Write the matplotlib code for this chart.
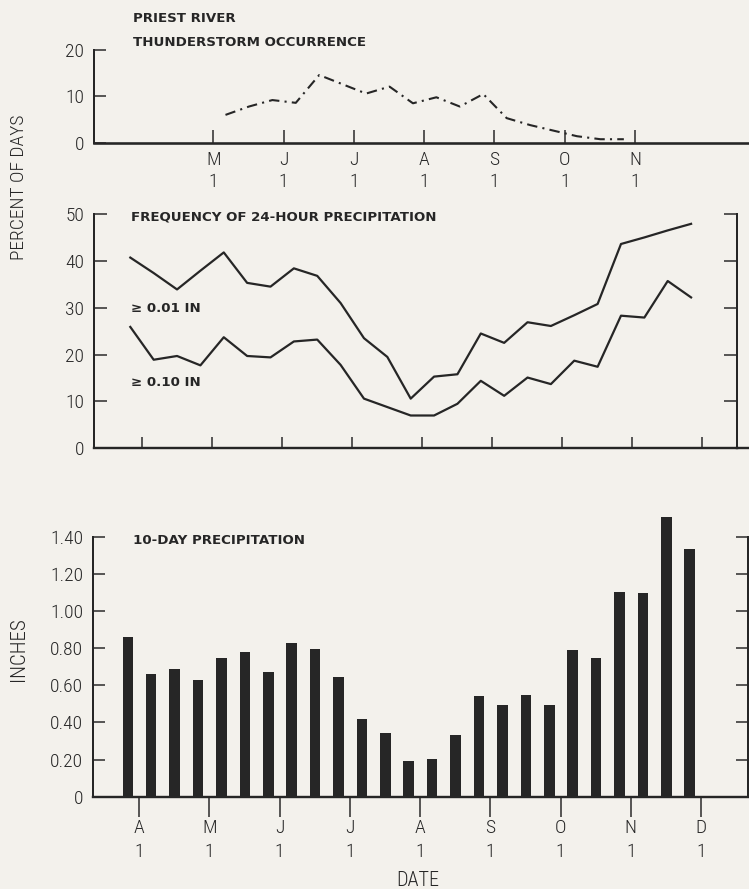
import matplotlib
matplotlib.use("Agg")
import matplotlib.pyplot as plt
import matplotlib.font_manager as fm
from matplotlib.lines import Line2D
import numpy as np

# ---- data ----
# 25 ten-day periods, positioned in months after April 1
n_periods = 25
period_x = np.arange(n_periods) / 3 - 0.16

months_top = ["M", "J", "J", "A", "S", "O", "N"]
months_bottom = ["A", "M", "J", "J", "A", "S", "O", "N", "D"]

# thunderstorm occurrence, percent of days (periods 4..21)
thunder_first = 4
thunder_pct = [6.0, 7.8, 9.2, 8.6, 14.6, 12.6, 10.6, 12.1, 8.5,
               9.8, 7.8, 10.5, 5.3, 3.8, 2.6, 1.4, 0.75, 0.75]

# frequency of 24-hour precipitation, percent of days
freq_001 = [40.7, 37.4, 33.9, 37.9, 41.8, 35.3, 34.5, 38.4, 36.8, 31.0,
            23.5, 19.5, 10.6, 15.3, 15.8, 24.5, 22.5, 26.9, 26.1, 28.4,
            30.8, 43.6, 45.0, 46.5, 47.9]
freq_010 = [25.9, 18.9, 19.7, 17.7, 23.7, 19.7, 19.4, 22.8, 23.2, 17.8,
            10.6, 8.8, 7.0, 7.0, 9.5, 14.4, 11.2, 15.1, 13.7, 18.7,
            17.4, 28.3, 27.9, 35.7, 32.2]

# 10-day precipitation, inches
precip_in = [0.86, 0.66, 0.69, 0.63, 0.745, 0.78, 0.67, 0.83, 0.795, 0.645,
             0.42, 0.345, 0.19, 0.205, 0.33, 0.54, 0.495, 0.55, 0.495, 0.79,
             0.745, 1.10, 1.095, 1.505, 1.335]

# ---- style ----
BG = "#f3f1ec"
INK = "#262626"
TITLE_FONT = "DejaVu Sans"
W, H = 749, 889
PT = 0.72  # points per pixel at dpi 100
TICK_SIZE = 14


def pick_narrow_font():
    """Find a condensed sans for the tick labels, else fall back."""
    entries = fm.fontManager.ttflist
    names = {f.name for f in entries}
    for name in ["Liberation Sans Narrow", "Roboto Condensed",
                 "Open Sans Condensed", "Noto Sans Condensed",
                 "DejaVu Sans Condensed"]:
        if name in names:
            return name, "normal"
    for fam in ["Noto Sans", "DejaVu Sans", "Open Sans", "Roboto"]:
        for f in entries:
            if f.name == fam and "condensed" in str(f.stretch):
                return fam, "condensed"
    return "Roboto", "normal"


NARROW, STRETCH = pick_narrow_font()
plt.rcParams["font.family"] = [NARROW, "DejaVu Sans"]
plt.rcParams["font.stretch"] = STRETCH
plt.rcParams["font.weight"] = "light"
plt.rcParams["axes.linewidth"] = 2 * PT

fig = plt.figure(figsize=(W / 100, H / 100), dpi=100, facecolor=BG)


def px_axes(left, right, y_zero, y_top):
    ax = fig.add_axes([left / W, 1 - y_zero / H, (right - left) / W,
                       (y_zero - y_top) / H])
    ax.set_facecolor("none")
    for s in ax.spines.values():
        s.set_color(INK)
    ax.spines["top"].set_visible(False)
    return ax


def title(x_px, y_px, text):
    fig.text(x_px / W, 1 - y_px / H, text, fontsize=9.6, fontweight="bold",
             family=TITLE_FONT, fontstretch="normal", color=INK,
             va="center", ha="left")


def month_labels(names):
    return [f"{m}\n1" for m in names]


# ---- top panel: thunderstorm occurrence ----
ax1 = px_axes(94, 748, 142.7, 50)
ax1.spines["right"].set_visible(False)
ax1.spines["bottom"].set_linewidth(2.6 * PT)
ax1.set_xlim(-0.697, 8.606)
ax1.set_ylim(0, 20)
tx = period_x[thunder_first:thunder_first + len(thunder_pct)]
ax1.plot(tx, thunder_pct, color=INK, lw=1.5, ls=(0, (5, 2.5, 1, 2.5)))
ax1.set_yticks([0, 10, 20])
ax1.set_xticks(np.arange(1, 8))
ax1.set_xticklabels(month_labels(months_top), linespacing=1.3)
ax1.tick_params(axis="y", direction="in", length=12 * PT, width=1.5 * PT,
                pad=7, labelsize=TICK_SIZE, colors=INK)
ax1.tick_params(axis="x", direction="in", length=13 * PT, width=1.5 * PT,
                pad=6, labelsize=TICK_SIZE, colors=INK)
title(133, 19, "PRIEST RIVER")
title(133, 42, "THUNDERSTORM OCCURRENCE")

# ---- middle panel: frequency of 24-hour precipitation ----
ax2 = px_axes(94, 737, 448.3, 214)
ax2.set_xlim(-0.678, 8.495)
ax2.set_ylim(0, 50)
ax2.plot(period_x, freq_001, color=INK, lw=1.6)
ax2.plot(period_x, freq_010, color=INK, lw=1.6)
ax2.set_yticks([0, 10, 20, 30, 40, 50])
ax2.set_xticks(np.arange(0, 9))
ax2.set_xticklabels([])
ax2.tick_params(axis="y", direction="in", length=13 * PT, width=1.5 * PT,
                pad=7, labelsize=TICK_SIZE, colors=INK, right=True)
ax2.tick_params(axis="x", direction="in", length=11 * PT, width=1.5 * PT,
                colors=INK)
ax2.spines["bottom"].set_linewidth(2.4 * PT)
fig.add_artist(Line2D([737 / W, 749 / W], [1 - 448.3 / H] * 2,
                      color=INK, lw=2.4 * PT))
title(131, 217, "FREQUENCY OF 24-HOUR PRECIPITATION")
title(131, 309, "\u2265 0.01 IN")
title(131, 383, "\u2265 0.10 IN")

# ---- bottom panel: 10-day precipitation ----
ax3 = px_axes(93, 748, 796.7, 536.7)
ax3.set_xlim(-0.655, 8.669)
ax3.set_ylim(0, 1.40)
ax3.bar(period_x, precip_in, width=0.15, color=INK, clip_on=False, zorder=2)
yt = np.arange(0, 1.41, 0.20)
ax3.set_yticks(yt)
ax3.set_yticklabels(["0"] + [f"{v:.2f}" for v in yt[1:]])
ax3.set_xticks(np.arange(0, 9))
ax3.set_xticklabels(month_labels(months_bottom), linespacing=1.4)
ax3.tick_params(axis="y", direction="in", length=12 * PT, width=1.5 * PT,
                pad=7, labelsize=TICK_SIZE, colors=INK, right=True)
ax3.tick_params(axis="x", direction="out", length=20 * PT, width=1.5 * PT,
                pad=2, labelsize=TICK_SIZE, colors=INK)
ax3.spines["bottom"].set_linewidth(2.4 * PT)
ax3.spines["bottom"].set_zorder(3)
title(133, 540, "10-DAY PRECIPITATION")

# ---- axis titles ----
fig.text(19 / W, 1 - 187 / H, "PERCENT OF DAYS", rotation=90, fontsize=14,
         ha="center", va="center", color=INK)
fig.text(18 / W, 1 - 649 / H, "INCHES", rotation=90, fontsize=15,
         ha="center", va="center", color=INK)
fig.text(418 / W, 1 - 881 / H, "DATE", fontsize=14.5,
         ha="center", va="center", color=INK)

fig.savefig("out.png", dpi=100, facecolor=BG)
